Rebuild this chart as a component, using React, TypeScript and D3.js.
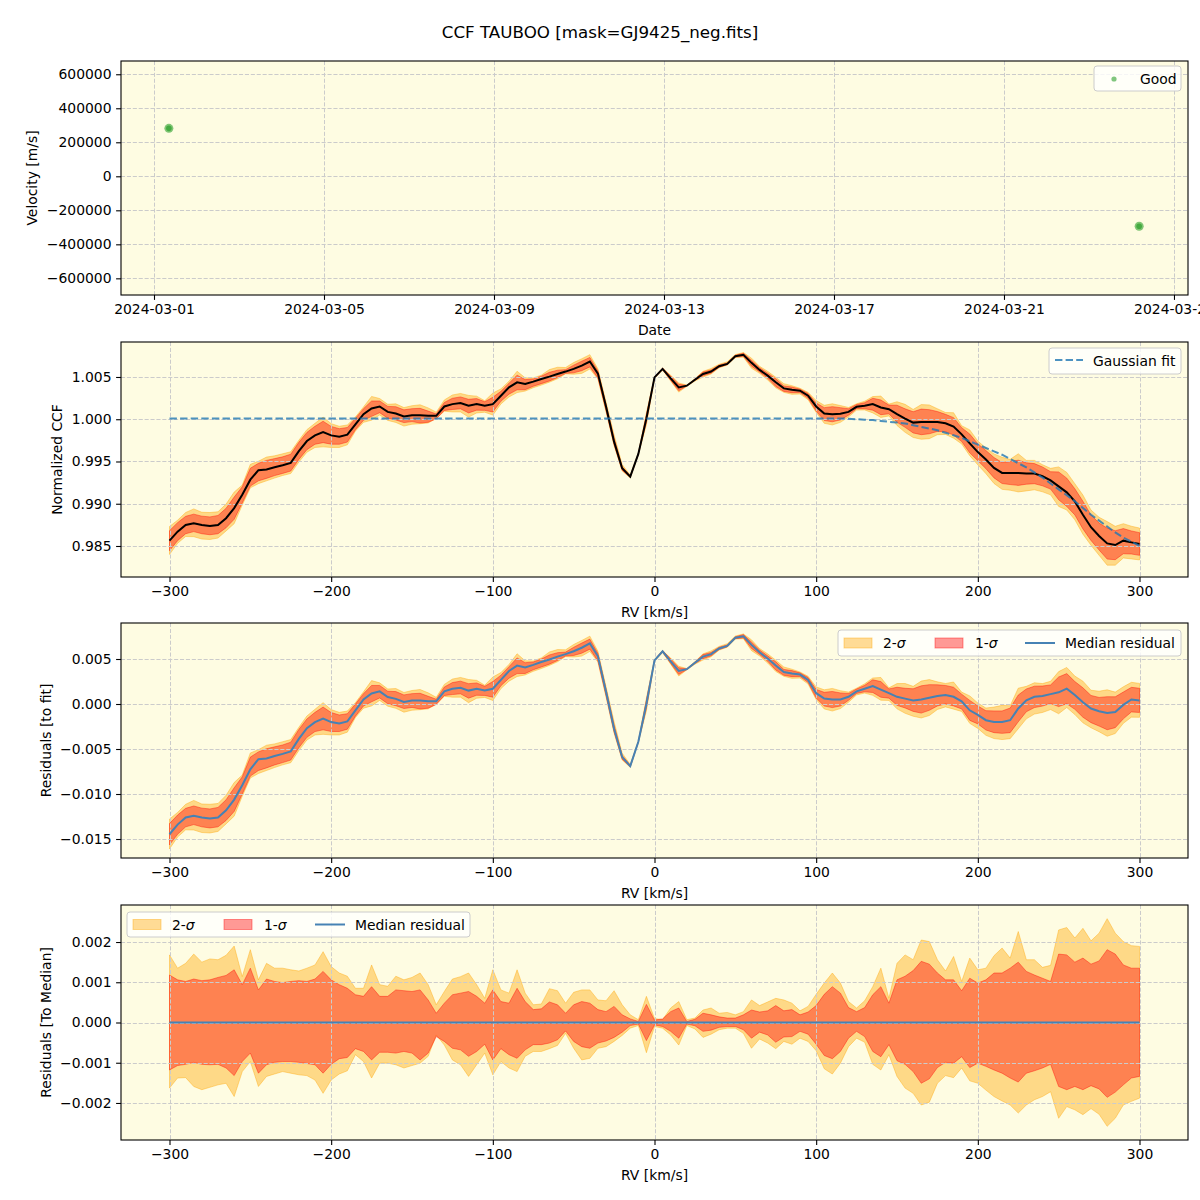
import { useEffect, useRef } from "react";
import * as d3 from "d3";

const FONT = "DejaVu Sans, sans-serif";
const FS = 13.9;
const BG = "#fefce2";
const L = 121;
const R = 1188;

// radial-velocity grid of the CCF, km/s
const rvGrid = d3.range(-300, 301, 5);

// median normalized CCF on rvGrid
const ccfMedian = [
  0.98563, 0.9867, 0.98749, 0.98769, 0.98749, 0.98738, 0.98749, 0.98829, 0.98948, 0.99107,
  0.99285, 0.99397, 0.99405, 0.99432, 0.99456, 0.99484, 0.99623, 0.99742, 0.99809, 0.99849,
  0.99809, 0.99794, 0.99817, 0.9994, 1.0006, 1.00127, 1.00151, 1.00087, 1.00067, 1.00032,
  1.00048, 1.00048, 1.0004, 1.0004, 1.00151, 1.00179, 1.00191, 1.00159, 1.00179, 1.00159,
  1.00179, 1.00278, 1.00377, 1.00437, 1.00417, 1.00445, 1.00476, 1.00504, 1.00536, 1.00564,
  1.00596, 1.00635, 1.00683, 1.0054, 1.0015, 0.99735, 0.9942, 0.9932, 0.9959, 1.0001,
  1.00495, 1.00596, 1.00484, 1.00377, 1.00397, 1.00468, 1.00536, 1.00564, 1.00627, 1.00655,
  1.00746, 1.00762, 1.00667, 1.00584, 1.00516, 1.00437, 1.00365, 1.00349, 1.00337, 1.00278,
  1.00151, 1.00067, 1.0006, 1.00064, 1.00087, 1.00147, 1.00159, 1.00179, 1.00139, 1.00119,
  1.0006, 1.00008, 0.9996, 0.99968, 0.99968, 0.99968, 0.99952, 0.99913, 0.99821, 0.99714,
  0.99611, 0.99524, 0.99424, 0.99365, 0.99365, 0.99365, 0.99357, 0.99357, 0.99325, 0.99277,
  0.99206, 0.99135, 0.99027, 0.98869, 0.98722, 0.98618, 0.98531, 0.98511, 0.98563, 0.98543,
  0.98523,
];

// Gaussian fit of the CCF (sampled)
const fitRv = [
  -300, 110, 115, 120, 125, 130, 135, 140, 145, 150, 155, 160, 165, 170, 175, 180, 185, 190, 195, 200,
  205, 210, 215, 220, 225, 230, 235, 240, 245, 250, 255, 260, 265, 270, 275, 280, 285, 290, 295, 300,
];
const fitCcf = [
  1.0001, 1.0001, 1.0001, 1.00005, 1.0, 0.99995, 0.9999, 0.9998, 0.9997, 0.9996,
  0.9995, 0.9993, 0.9991, 0.9989, 0.9987, 0.9984, 0.9981, 0.9978, 0.9974, 0.997,
  0.9966, 0.9962, 0.9958, 0.9953, 0.9948, 0.9943, 0.9937, 0.9931, 0.9924, 0.9917,
  0.991, 0.9903, 0.9895, 0.9887, 0.988, 0.9873, 0.9866, 0.986, 0.9855, 0.985,
];

// median residual to the fit on rvGrid
const residMedian = [
  -0.01447, -0.0134, -0.01261, -0.01241, -0.01261, -0.01272, -0.01261, -0.01181, -0.01062, -0.00903,
  -0.00725, -0.00613, -0.00605, -0.00578, -0.00554, -0.00526, -0.00387, -0.00268, -0.00201, -0.00161,
  -0.00201, -0.00216, -0.00193, -0.0007, 0.0005, 0.00117, 0.00141, 0.00077, 0.00057, 0.00022,
  0.00038, 0.00038, 0.0003, 0.0003, 0.00141, 0.00169, 0.00181, 0.00149, 0.00169, 0.00149,
  0.00169, 0.00268, 0.00367, 0.00427, 0.00407, 0.00435, 0.00466, 0.00494, 0.00526, 0.00554,
  0.00586, 0.00625, 0.00673, 0.0053, 0.0014, -0.00275, -0.0059, -0.0069, -0.0042, 0.0,
  0.00485, 0.00586, 0.00474, 0.00367, 0.00387, 0.00458, 0.00526, 0.00554, 0.00617, 0.00645,
  0.00736, 0.00752, 0.00657, 0.00574, 0.00506, 0.00427, 0.00355, 0.00339, 0.00327, 0.00268,
  0.0012, 0.0006, 0.0005, 0.0005, 0.0008, 0.0014, 0.0017, 0.002, 0.0016, 0.0012,
  0.0008, 0.0006, 0.0004, 0.0005, 0.0007, 0.0009, 0.001, 0.0008, 0.0003, -0.0007,
  -0.0012, -0.0018, -0.002, -0.002, -0.0018, -0.0005, 0.0004, 0.0008, 0.0009, 0.0011,
  0.0013, 0.0017, 0.001, 0.0002, -0.0005, -0.0008, -0.001, -0.0009, -0.0001, 0.0005,
  0.0004,
];

// spread around the median, units of 1e-4
const sig2Hi = [
  16.8, 13.5, 14.7, 17.0, 15.0, 15.8, 15.6, 16.7, 19.0, 11.4,
  18.1, 10.6, 14.7, 13.5, 13.5, 13.1, 12.8, 13.5, 14.3, 17.6,
  13.9, 12.3, 11.5, 8.5, 8.5, 14.3, 9.4, 9.0, 11.5, 10.6,
  11.2, 12.3, 9.4, 4.4, 7.7, 10.8, 11.4, 12.3, 9.4, 6.0,
  13.1, 8.1, 7.3, 13.1, 7.3, 4.4, 4.6, 8.4, 7.9, 4.8,
  7.5, 8.1, 8.1, 5.6, 5.4, 7.9, 4.4, 1.9, 0.7, 6.5,
  1.0, 0.7, 3.6, 5.2, 0.7, 1.1, 3.1, 3.6, 2.3, 2.5,
  1.9, 2.7, 5.6, 4.2, 5.1, 6.0, 5.6, 4.8, 2.9, 4.0,
  7.0, 9.8, 12.3, 9.8, 5.2, 3.6, 5.4, 8.9, 13.5, 6.0,
  14.7, 16.8, 15.6, 20.5, 20.1, 15.6, 12.8, 16.4, 10.2, 16.0,
  13.1, 13.5, 16.6, 18.5, 16.0, 22.6, 15.6, 15.6, 13.7, 14.2,
  23.0, 23.6, 21.0, 23.4, 20.3, 22.2, 25.8, 22.2, 20.1, 19.1,
  18.9,
];
const sig1Hi = [
  11.8, 10.6, 10.2, 10.8, 10.4, 10.6, 11.2, 11.7, 13.1, 9.4,
  13.5, 8.1, 10.8, 10.2, 9.9, 10.2, 10.4, 10.2, 10.8, 12.7,
  10.6, 9.4, 8.5, 6.9, 6.5, 8.9, 6.5, 6.5, 8.1, 7.9,
  7.7, 8.1, 5.6, 2.3, 4.8, 6.9, 7.3, 7.7, 6.5, 4.8,
  8.1, 5.2, 4.8, 8.5, 5.2, 3.2, 3.4, 5.1, 4.4, 2.3,
  4.4, 5.2, 4.8, 3.2, 2.7, 4.0, 1.9, 0.9, 0.25, 4.5,
  0.6, 0.9, 2.7, 3.6, 0.25, 0.8, 2.3, 1.9, 1.4, 1.1,
  1.1, 1.9, 3.1, 2.6, 2.9, 4.2, 2.9, 3.2, 1.9, 2.6,
  4.2, 7.0, 8.9, 7.3, 3.7, 2.7, 3.7, 6.9, 8.9, 4.8,
  10.6, 11.5, 12.9, 15.2, 14.5, 12.3, 10.6, 10.6, 7.9, 11.0,
  9.8, 10.6, 12.3, 12.3, 13.5, 15.0, 12.7, 11.8, 11.0, 10.2,
  17.0, 16.8, 15.0, 16.0, 14.5, 15.3, 18.1, 17.0, 14.3, 13.5,
  13.5,
];
const sig1Lo = [
  -11.8, -10.7, -10.4, -9.9, -10.4, -10.5, -10.4, -11.3, -13.2, -9.7,
  -7.6, -12.6, -10.5, -9.9, -9.7, -9.7, -9.9, -10.2, -10.5, -12.6,
  -10.4, -9.0, -8.7, -6.5, -7.2, -9.3, -7.4, -7.4, -7.6, -7.2,
  -7.6, -9.3, -7.6, -3.5, -4.7, -6.4, -6.8, -8.4, -7.2, -5.4,
  -9.3, -6.5, -8.0, -8.9, -6.8, -5.5, -5.5, -5.1, -4.3, -2.1,
  -4.7, -6.0, -6.4, -5.1, -4.6, -3.7, -2.4, -0.75, -0.4, -4.5,
  -0.6, -1.0, -2.2, -3.9, -0.4, -0.8, -2.2, -1.9, -1.2, -1.0,
  -1.0, -1.8, -3.9, -2.4, -3.1, -4.9, -3.6, -3.5, -2.2, -2.9,
  -5.4, -8.2, -9.0, -7.2, -3.9, -2.2, -3.5, -7.2, -8.5, -5.5,
  -9.5, -10.4, -12.2, -15.1, -14.0, -11.2, -9.9, -10.1, -8.5, -11.2,
  -10.1, -10.9, -11.8, -12.6, -13.8, -14.8, -12.6, -12.0, -11.3, -10.4,
  -15.9, -16.7, -15.9, -16.7, -15.7, -16.5, -18.6, -17.3, -15.5, -13.8,
  -13.4,
];
const sig2Lo = [
  -16.3, -13.8, -13.7, -15.9, -16.7, -16.1, -15.5, -15.1, -18.4, -12.2,
  -9.7, -15.9, -13.4, -12.8, -12.2, -12.6, -13.0, -13.2, -14.3, -17.6,
  -14.3, -12.8, -12.0, -8.0, -9.7, -13.8, -10.1, -10.1, -10.5, -11.3,
  -10.7, -10.1, -8.4, -3.1, -5.6, -9.3, -10.5, -13.4, -10.5, -7.6,
  -13.0, -9.7, -11.3, -12.2, -8.4, -7.2, -7.2, -6.5, -5.7, -2.7,
  -6.4, -9.3, -8.9, -6.4, -6.0, -4.7, -3.2, -1.4, -0.75, -7.5,
  -1.0, -1.4, -3.1, -5.6, -0.75, -1.6, -3.7, -2.9, -1.8, -1.4,
  -1.4, -2.7, -6.4, -4.1, -5.1, -6.5, -4.7, -5.4, -3.9, -4.7,
  -7.0, -11.5, -12.8, -10.1, -6.0, -3.9, -4.9, -10.4, -11.8, -8.0,
  -13.4, -16.3, -17.6, -20.5, -19.8, -15.1, -13.2, -13.7, -11.3, -14.5,
  -15.1, -16.8, -18.4, -19.5, -20.5, -22.5, -20.5, -19.2, -18.4, -17.2,
  -23.8, -20.9, -21.7, -22.9, -21.4, -22.8, -25.8, -23.8, -20.5, -19.6,
  -18.8,
];

// radial velocities of the two epochs
const obsDates = ["2024-03-01T08:24:00Z", "2024-03-24T04:20:00Z"];
const obsVelocity = [282000, -294000];

const dateTicks = ["2024-03-01", "2024-03-05", "2024-03-09", "2024-03-13", "2024-03-17", "2024-03-21", "2024-03-25"];
const velTicks = [-600000, -400000, -200000, 0, 200000, 400000, 600000];
const rvTicks = [-300, -200, -100, 0, 100, 200, 300];
const ccfTicks = [0.985, 0.99, 0.995, 1.0, 1.005];
const residTicks = [-0.015, -0.01, -0.005, 0.0, 0.005];
const medTicks = [-0.002, -0.001, 0.0, 0.001, 0.002];

const ORANGE = "orange";
const RED = "red";
const BLUE = "#4682b4";

function grid(g: any, x: any, y: any, xt: any[], yt: number[], top: number, bottom: number) {
  const gg = g.append("g").attr("stroke", "#cbcbcb").attr("stroke-width", 1).attr("stroke-dasharray", "4.1,1.8");
  xt.forEach((t) => {
    const px = Math.round(x(t)) + 0.5;
    gg.append("line").attr("x1", px).attr("x2", px).attr("y1", top).attr("y2", bottom);
  });
  yt.forEach((t) => {
    const py = Math.round(y(t)) + 0.5;
    gg.append("line").attr("x1", L).attr("x2", R).attr("y1", py).attr("y2", py);
  });
}

function axes(g: any, x: any, y: any, xt: any[], xf: any, yt: number[], yf: any, top: number, bottom: number) {
  const gx = g.append("g").attr("transform", `translate(0,${bottom})`)
    .call(d3.axisBottom(x).tickValues(xt).tickFormat(xf).tickSize(4.9).tickPadding(4.6));
  const gy = g.append("g").attr("transform", `translate(${L},0)`)
    .call(d3.axisLeft(y).tickValues(yt).tickFormat(yf).tickSize(4.9).tickPadding(4.6));
  [gx, gy].forEach((a) => {
    a.select(".domain").remove();
    a.attr("font-family", FONT).attr("font-size", FS);
    a.selectAll("line").attr("stroke", "#000").attr("stroke-width", 1.1);
    a.selectAll("text").attr("fill", "#000");
  });
  g.append("rect").attr("x", L).attr("y", top).attr("width", R - L).attr("height", bottom - top)
    .attr("fill", "none").attr("stroke", "#000").attr("stroke-width", 1.1);
}

function labels(g: any, xLabel: string, yLabel: string, yLabelX: number, top: number, bottom: number) {
  g.append("text").attr("x", (L + R) / 2).attr("y", bottom + 40).attr("text-anchor", "middle")
    .attr("font-family", FONT).attr("font-size", FS).text(xLabel);
  g.append("text").attr("transform", `translate(${yLabelX},${(top + bottom) / 2}) rotate(-90)`)
    .attr("text-anchor", "middle").attr("font-family", FONT).attr("font-size", FS).text(yLabel);
}

function legendBox(g: any, x0: number, y0: number, x1: number, y1: number) {
  g.append("rect").attr("x", x0).attr("y", y0).attr("width", x1 - x0).attr("height", y1 - y0)
    .attr("rx", 3).attr("fill", "#fff").attr("fill-opacity", 0.8)
    .attr("stroke", "#cccccc").attr("stroke-width", 1);
}

function legendText(g: any, x: number, y: number, text: string, sigma = false) {
  const t = g.append("text").attr("x", x).attr("y", y).attr("font-family", FONT).attr("font-size", FS);
  if (sigma) {
    t.append("tspan").text(text);
    t.append("tspan").attr("font-style", "italic").text("σ");
  } else {
    t.text(text);
  }
}

function bandLegend(g: any, x0: number, y0: number, x1: number, y1: number, offs: number[]) {
  legendBox(g, x0, y0, x1, y1);
  const cy = (y0 + y1) / 2;
  const sw = (x: number, c: string) =>
    g.append("rect").attr("x", x).attr("y", cy - 5).attr("width", 28).attr("height", 10)
      .attr("fill", c).attr("fill-opacity", 0.4).attr("stroke", c).attr("stroke-opacity", 0.4);
  sw(offs[0], ORANGE);
  legendText(g, offs[1], cy + 5, "2-", true);
  sw(offs[2], RED);
  legendText(g, offs[3], cy + 5, "1-", true);
  g.append("line").attr("x1", offs[4]).attr("x2", offs[4] + 30).attr("y1", cy).attr("y2", cy)
    .attr("stroke", BLUE).attr("stroke-width", 2);
  legendText(g, offs[5], cy + 5, "Median residual");
}

export default function App() {
  const ref = useRef<SVGSVGElement>(null);

  useEffect(() => {
    if (!ref.current) return;
    const svg = d3.select(ref.current);
    svg.selectAll("*").remove();

    svg.append("rect").attr("width", 1200).attr("height", 1200).attr("fill", "#fff");
    svg.append("text").attr("x", 600).attr("y", 38).attr("text-anchor", "middle")
      .attr("font-family", FONT).attr("font-size", 16.7).text("CCF TAUBOO [mask=GJ9425_neg.fits]");

    const idx = rvGrid.map((_, i) => i);
    const xRv = d3.scaleLinear().domain([-330, 330]).range([L, R]);
    const numFmt = d3.format(".3f");

    // --- velocity time series
    {
      const top = 61, bottom = 295;
      const g = svg.append("g");
      const x = d3.scaleUtc()
        .domain([new Date("2024-02-29T05:22:00Z"), new Date("2024-03-25T07:55:00Z")])
        .range([L, R]);
      const y = d3.scaleLinear().domain([-698000, 678000]).range([bottom, top]);
      const ticks = dateTicks.map((d) => new Date(d + "T00:00:00Z"));
      g.append("rect").attr("x", L).attr("y", top).attr("width", R - L).attr("height", bottom - top).attr("fill", BG);
      grid(g, x, y, ticks, velTicks, top, bottom);
      const pts = obsDates.map((d, i) => ({ t: new Date(d), v: obsVelocity[i] }));
      g.selectAll(".outer").data(pts).join("circle").attr("class", "outer")
        .attr("cx", (d) => x(d.t)).attr("cy", (d) => y(d.v)).attr("r", 4.5)
        .attr("fill", "#2ca02c").attr("fill-opacity", 0.6);
      g.selectAll(".inner").data(pts).join("circle").attr("class", "inner")
        .attr("cx", (d) => x(d.t)).attr("cy", (d) => y(d.v)).attr("r", 2.8)
        .attr("fill", "#2ca02c").attr("fill-opacity", 0.7);
      axes(g, x, y, ticks, d3.utcFormat("%Y-%m-%d"), velTicks, d3.format("d"), top, bottom);
      labels(g, "Date", "Velocity [m/s]", 37, top, bottom);
      legendBox(g, 1094, 66, 1181, 91);
      g.append("circle").attr("cx", 1114).attr("cy", 79).attr("r", 2.6).attr("fill", "#2ca02c").attr("fill-opacity", 0.6);
      legendText(g, 1140, 84, "Good");
    }

    // --- normalized CCF
    {
      const top = 342, bottom = 577;
      const g = svg.append("g");
      const y = d3.scaleLinear().domain([0.98133, 1.00914]).range([bottom, top]);
      g.append("rect").attr("x", L).attr("y", top).attr("width", R - L).attr("height", bottom - top).attr("fill", BG);
      const band = (hi: number[], lo: number[]) =>
        d3.area<number>().x((i) => xRv(rvGrid[i]))
          .y0((i) => y(ccfMedian[i] + lo[i] * 1e-4)).y1((i) => y(ccfMedian[i] + hi[i] * 1e-4));
      g.append("path").attr("d", band(sig2Hi, sig2Lo)(idx)).attr("fill", ORANGE).attr("fill-opacity", 0.4)
        .attr("stroke", ORANGE).attr("stroke-opacity", 0.4);
      g.append("path").attr("d", band(sig1Hi, sig1Lo)(idx)).attr("fill", RED).attr("fill-opacity", 0.4)
        .attr("stroke", RED).attr("stroke-opacity", 0.4);
      grid(g, xRv, y, rvTicks, ccfTicks, top, bottom);
      const line = d3.line<number>().x((i) => xRv(rvGrid[i])).y((i) => y(ccfMedian[i]));
      g.append("path").attr("d", line(idx)).attr("fill", "none").attr("stroke", "#000").attr("stroke-width", 2);
      const fit = d3.line<number>().x((_, i) => xRv(fitRv[i])).y((v) => y(v));
      g.append("path").attr("d", fit(fitCcf)).attr("fill", "none").attr("stroke", "#1f77b4")
        .attr("stroke-opacity", 0.8).attr("stroke-width", 2).attr("stroke-dasharray", "7.4,3.2");
      axes(g, xRv, y, rvTicks, d3.format("d"), ccfTicks, numFmt, top, bottom);
      labels(g, "RV [km/s]", "Normalized CCF", 62, top, bottom);
      legendBox(g, 1049, 348, 1181, 374);
      g.append("line").attr("x1", 1055).attr("x2", 1083).attr("y1", 360).attr("y2", 360)
        .attr("stroke", "#1f77b4").attr("stroke-opacity", 0.8).attr("stroke-width", 2).attr("stroke-dasharray", "7.4,3.2");
      legendText(g, 1093, 366, "Gaussian fit");
    }

    // --- residuals to the fit
    {
      const top = 623, bottom = 858;
      const g = svg.append("g");
      const y = d3.scaleLinear().domain([-0.01711, 0.009]).range([bottom, top]);
      g.append("rect").attr("x", L).attr("y", top).attr("width", R - L).attr("height", bottom - top).attr("fill", BG);
      const band = (hi: number[], lo: number[]) =>
        d3.area<number>().x((i) => xRv(rvGrid[i]))
          .y0((i) => y(residMedian[i] + lo[i] * 1e-4)).y1((i) => y(residMedian[i] + hi[i] * 1e-4));
      g.append("path").attr("d", band(sig2Hi, sig2Lo)(idx)).attr("fill", ORANGE).attr("fill-opacity", 0.4)
        .attr("stroke", ORANGE).attr("stroke-opacity", 0.4);
      g.append("path").attr("d", band(sig1Hi, sig1Lo)(idx)).attr("fill", RED).attr("fill-opacity", 0.4)
        .attr("stroke", RED).attr("stroke-opacity", 0.4);
      grid(g, xRv, y, rvTicks, residTicks, top, bottom);
      const line = d3.line<number>().x((i) => xRv(rvGrid[i])).y((i) => y(residMedian[i]));
      g.append("path").attr("d", line(idx)).attr("fill", "none").attr("stroke", BLUE).attr("stroke-width", 2);
      axes(g, xRv, y, rvTicks, d3.format("d"), residTicks, numFmt, top, bottom);
      labels(g, "RV [km/s]", "Residuals [to fit]", 51, top, bottom);
      bandLegend(g, 838, 630, 1181, 656, [844, 883, 935, 975, 1025, 1065]);
    }

    // --- residuals to the median
    {
      const top = 905, bottom = 1140;
      const g = svg.append("g");
      const y = d3.scaleLinear().domain([-0.00292, 0.00292]).range([bottom, top]);
      g.append("rect").attr("x", L).attr("y", top).attr("width", R - L).attr("height", bottom - top).attr("fill", BG);
      const band = (hi: number[], lo: number[]) =>
        d3.area<number>().x((i) => xRv(rvGrid[i]))
          .y0((i) => y(lo[i] * 1e-4)).y1((i) => y(hi[i] * 1e-4));
      g.append("path").attr("d", band(sig2Hi, sig2Lo)(idx)).attr("fill", ORANGE).attr("fill-opacity", 0.4)
        .attr("stroke", ORANGE).attr("stroke-opacity", 0.4);
      g.append("path").attr("d", band(sig1Hi, sig1Lo)(idx)).attr("fill", RED).attr("fill-opacity", 0.4)
        .attr("stroke", RED).attr("stroke-opacity", 0.4);
      grid(g, xRv, y, rvTicks, medTicks, top, bottom);
      const line = d3.line<number>().x((i) => xRv(rvGrid[i])).y(() => y(0));
      g.append("path").attr("d", line(idx)).attr("fill", "none").attr("stroke", BLUE).attr("stroke-width", 2);
      axes(g, xRv, y, rvTicks, d3.format("d"), medTicks, numFmt, top, bottom);
      labels(g, "RV [km/s]", "Residuals [To Median]", 51, top, bottom);
      bandLegend(g, 127, 912, 470, 937, [133, 172, 224, 264, 315, 355]);
    }
  }, []);

  return (
    <svg ref={ref} width={1200} height={1200} style={{ position: "absolute", left: 0, top: 0, display: "block" }} />
  );
}
